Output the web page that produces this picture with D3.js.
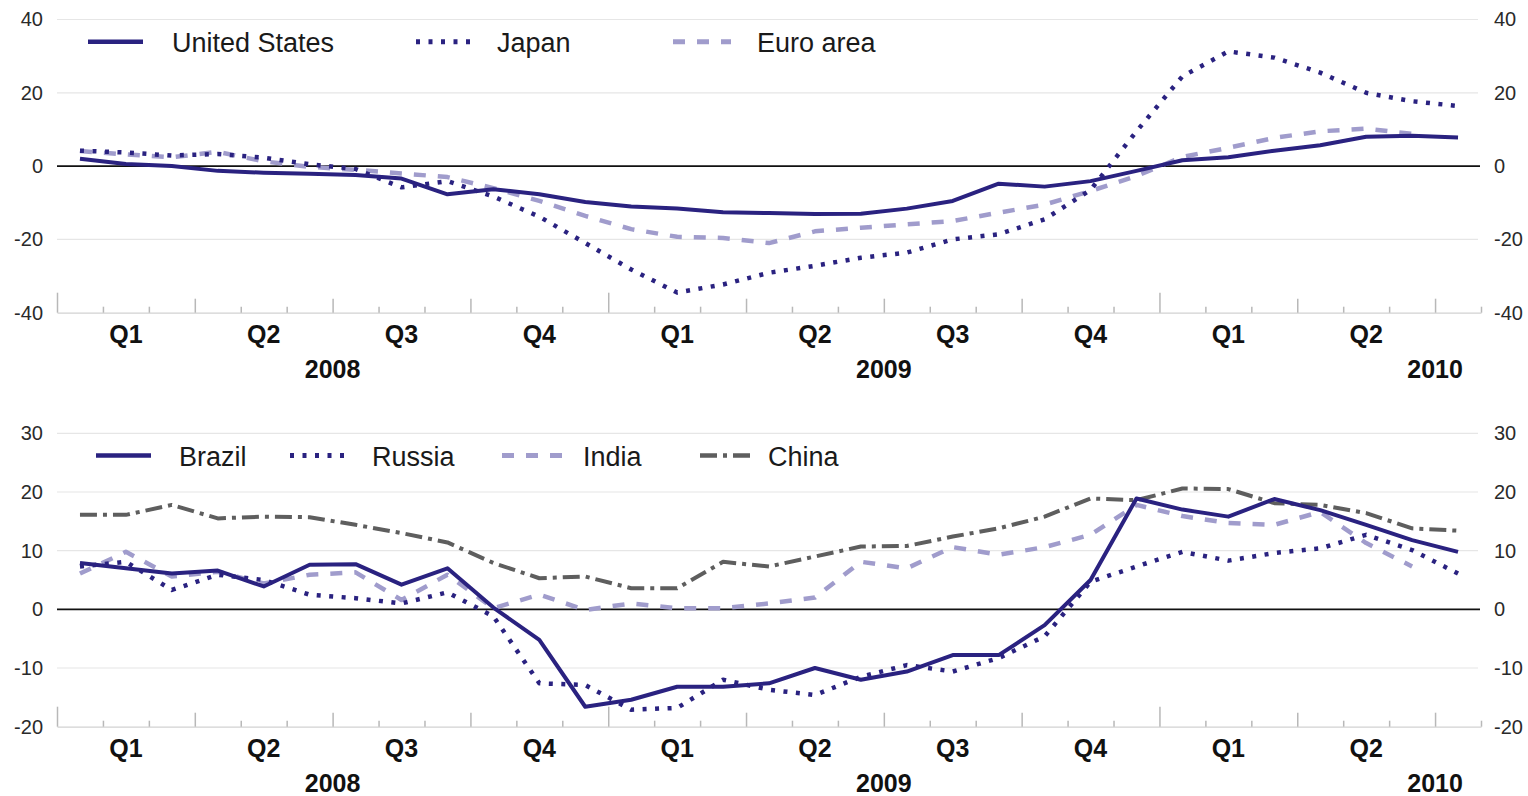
<!DOCTYPE html>
<html><head><meta charset="utf-8">
<script src="https://cdn.jsdelivr.net/npm/d3@7/dist/d3.min.js"></script>
<style>
body{margin:0;background:#fff}
svg{display:block}
text{font-family:"Liberation Sans",Arial,Helvetica,sans-serif}
</style>
</head><body>
<svg id="chart" width="1528" height="796"></svg>
<script>
// ---------- DATA (monthly, Jan 2008 – Jul 2010) ----------
const nMonths = 31;
const quarterLabels = ["Q1","Q2","Q3","Q4","Q1","Q2","Q3","Q4","Q1","Q2"];
const yearLabels = ["2008","2009","2010"];

const topTicks = [-40,-20,0,20,40];
const bottomTicks = [-20,-10,0,10,20,30];

const unitedStates = [2.0,0.6,0.0,-1.3,-1.8,-2.1,-2.4,-3.4,-7.7,-6.3,-7.7,-9.8,-11.0,-11.6,-12.6,-12.8,-13.1,-13.0,-11.6,-9.5,-4.8,-5.6,-4.1,-1.3,1.6,2.4,4.2,5.7,8.0,8.3,7.8];
const japan = [4.2,3.7,2.9,3.3,2.3,0.5,-0.8,-5.8,-4.1,-8.3,-13.8,-21.0,-28.2,-34.5,-32.3,-29.1,-27.2,-25.0,-23.6,-20.0,-18.6,-14.5,-6.5,9.5,24.5,31.3,29.6,25.5,20.0,17.7,16.4];
const euroArea = [4.1,3.2,2.4,3.9,1.3,-0.2,-1.0,-2.0,-3.0,-6.0,-9.5,-13.6,-17.2,-19.3,-19.6,-21.0,-17.8,-16.8,-15.9,-15.0,-12.7,-10.5,-6.8,-2.7,2.5,5.0,7.7,9.5,10.2,8.8];

const brazil = [7.9,7.0,6.1,6.6,3.9,7.6,7.7,4.2,7.0,0.3,-5.2,-16.6,-15.4,-13.2,-13.2,-12.6,-10.0,-12.0,-10.6,-7.8,-7.8,-2.7,5.0,18.9,17.0,15.8,18.8,16.9,14.4,11.8,9.8];
const russia = [7.3,8.1,3.3,5.9,5.0,2.5,1.9,1.0,2.9,-1.2,-12.6,-12.9,-17.1,-16.8,-12.0,-13.7,-14.6,-11.5,-9.5,-10.6,-8.3,-4.6,4.7,7.3,9.8,8.3,9.6,10.4,12.7,10.1,6.1];
const india = [6.1,9.8,5.6,6.4,4.4,5.9,6.3,1.6,5.9,0.2,2.5,-0.1,1.0,0.2,0.2,1.0,2.0,8.1,7.0,10.6,9.3,10.6,12.7,17.8,15.9,14.7,14.4,16.6,11.3,7.3];
const china = [16.1,16.1,17.8,15.5,15.8,15.7,14.4,13.0,11.4,7.9,5.3,5.6,3.6,3.6,8.1,7.3,9.0,10.7,10.8,12.4,13.8,15.8,18.9,18.6,20.6,20.5,18.1,17.8,16.4,13.8,13.4];

// ---------- STYLES ----------
const NAVY = "#2a2280", LAV = "#a09ccc", GREY = "#5e5e5e";
const styles = {
  solid:  {color: NAVY, dash: null, w: 4},
  dotted: {color: NAVY, dash: "4,8.5", w: 4.5},
  dashed: {color: LAV,  dash: "12,12", w: 4.5},
  dashdot:{color: GREY, dash: "17,6,4,6", w: 4}
};

const svg = d3.select("#chart");
const x = d3.scaleLinear().domain([0, nMonths]).range([57, 1481]);

const panels = [
  {top: 19.5, bottom: 312.7, domain: [-40,40], ticks: topTicks,
   series: [
     {name:"Euro area", data: euroArea, st: styles.dashed},
     {name:"Japan", data: japan, st: styles.dotted},
     {name:"United States", data: unitedStates, st: styles.solid}
   ],
   legend: [
     {name:"United States", st: styles.solid, x0: 88, x1: 143, tx: 172},
     {name:"Japan", st: styles.dotted, x0: 416, x1: 472, tx: 497},
     {name:"Euro area", st: styles.dashed, x0: 673, x1: 731, tx: 757}
   ], ly: 41.7, lfs: 27},
  {top: 433.3, bottom: 726.7, domain: [-20,30], ticks: bottomTicks,
   series: [
     {name:"China", data: china, st: styles.dashdot},
     {name:"India", data: india, st: styles.dashed},
     {name:"Russia", data: russia, st: styles.dotted},
     {name:"Brazil", data: brazil, st: styles.solid}
   ],
   legend: [
     {name:"Brazil", st: styles.solid, x0: 96, x1: 151, tx: 179},
     {name:"Russia", st: styles.dotted, x0: 290, x1: 346, tx: 372},
     {name:"India", st: styles.dashed, x0: 502, x1: 562, tx: 583},
     {name:"China", st: styles.dashdot, x0: 700, x1: 752, tx: 768}
   ], ly: 455.5, lfs: 27}
];

const monthTicks = d3.range(0, nMonths + 1).filter(i => i % 3 !== 0);
const quarterTicks = d3.range(0, nMonths + 1).filter(i => i % 3 === 0 && i % 12 !== 0);
const yearTicks = d3.range(0, nMonths + 1).filter(i => i % 12 === 0);
const fmt = d => String(d);

panels.forEach(p => {
  const y = d3.scaleLinear().domain(p.domain).range([p.bottom, p.top]);
  const g = svg.append("g");

  // gridlines
  g.selectAll("line.grid").data(p.ticks.filter(t => t !== 0 && t !== p.domain[0]))
    .join("line").attr("class","grid")
    .attr("x1", x(0)).attr("x2", 1478)
    .attr("y1", d => y(d)).attr("y2", d => y(d))
    .attr("stroke", "#e6e6e6").attr("stroke-width", 1.2);

  // y labels left/right
  const yl = g.append("g").attr("transform", "translate(46,0)")
    .call(d3.axisLeft(y).tickValues(p.ticks).tickSize(0).tickPadding(3).tickFormat(fmt));
  const yr = g.append("g").attr("transform", "translate(1491,0)")
    .call(d3.axisRight(y).tickValues(p.ticks).tickSize(0).tickPadding(3).tickFormat(fmt));
  [yl, yr].forEach(a => {
    a.select(".domain").remove();
    a.selectAll("text").attr("font-size", 20).attr("fill", "#2a2a2a")
      .attr("font-family", '"Liberation Sans",Arial,sans-serif');
  });

  // x axis ticks
  const base = g.append("g").attr("transform", `translate(0,${p.bottom})`);
  const mk = (vals, size) => {
    const a = base.append("g").call(d3.axisBottom(x).tickValues(vals).tickSize(-size).tickSizeOuter(0).tickFormat(""));
    a.selectAll(".tick line").attr("stroke", "#b8b8b8").attr("stroke-width", 1.5);
    return a;
  };
  const a1 = mk(monthTicks, 6);
  a1.select(".domain").attr("stroke", "#d2d2d2").attr("stroke-width", 1.2);
  mk(quarterTicks, 14).select(".domain").remove();
  mk(yearTicks, 20).select(".domain").remove();

  // quarter & year labels
  base.selectAll("text.q").data(quarterLabels).join("text").attr("class","q")
    .attr("x", (d,i) => x(i*3 + 1.5)).attr("y", 30)
    .attr("text-anchor","middle").attr("font-size", 25).attr("font-weight","bold").attr("fill","#111")
    .text(d => d);
  base.selectAll("text.yr").data(yearLabels).join("text").attr("class","yr")
    .attr("x", (d,i) => x(i*12 + 6)).attr("y", 65)
    .attr("text-anchor","middle").attr("font-size", 25).attr("font-weight","bold").attr("fill","#111")
    .text(d => d);

  // zero line
  g.append("line").attr("x1", x(0)).attr("x2", 1480)
    .attr("y1", y(0)).attr("y2", y(0)).attr("stroke", "#111").attr("stroke-width", 1.6);

  // series
  const line = d3.line().x((d,i) => x(i + 0.5)).y(d => y(d));
  p.series.forEach(s => {
    g.append("path").datum(s.data).attr("d", line)
      .attr("fill","none").attr("stroke", s.st.color).attr("stroke-width", s.st.w)
      .attr("stroke-dasharray", s.st.dash).attr("stroke-linejoin","round");
  });

  // legend
  p.legend.forEach(l => {
    g.append("line").attr("x1", l.x0).attr("x2", l.x1).attr("y1", p.ly).attr("y2", p.ly)
      .attr("stroke", l.st.color).attr("stroke-width", l.st.w + 0.5).attr("stroke-dasharray", l.st.dash);
    g.append("text").attr("x", l.tx).attr("y", p.ly + 10).attr("font-size", p.lfs)
      .attr("fill","#1a1a1a").text(l.name);
  });
});
</script>
</body></html>
